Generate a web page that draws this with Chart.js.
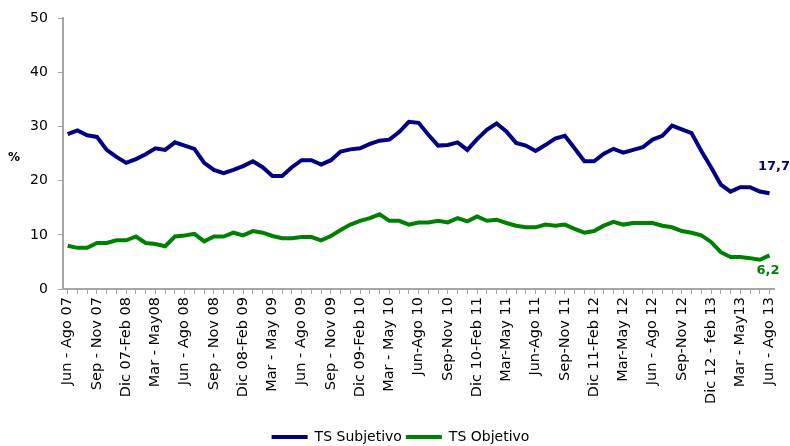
<!DOCTYPE html>
<html>
<head>
<meta charset="utf-8">
<script src="https://cdn.jsdelivr.net/npm/chart.js@4.4.1/dist/chart.umd.min.js"></script>
<style>
  html, body { margin: 0; padding: 0; background: #fff; }
  #wrap { width: 790px; height: 446px; position: relative; }
</style>
</head>
<body>
<div id="wrap"><canvas id="tsChart"></canvas></div>
<script>
// rolling quarters, one point per month; only every 3rd one gets a label
const tickLabels = [
    "Jun - Ago 07", "Sep - Nov 07", "Dic 07-Feb 08", "Mar - May08", "Jun - Ago 08",
    "Sep - Nov 08", "Dic 08-Feb 09", "Mar - May 09", "Jun - Ago 09", "Sep - Nov 09",
    "Dic 09-Feb 10", "Mar - May 10", "Jun-Ago 10", "Sep-Nov 10", "Dic 10-Feb 11",
    "Mar-May 11", "Jun-Ago 11", "Sep-Nov 11", "Dic 11-Feb 12", "Mar-May 12",
    "Jun - Ago 12", "Sep-Nov 12", "Dic 12 - feb 13", "Mar - May13", "Jun - Ago 13"
];

const tsSubjetivo = [
    28.6, 29.3, 28.4, 28.1, 25.7, 24.4, 23.3, 24.0, 24.9, 26.0,
    25.7, 27.1, 26.5, 25.9, 23.3, 22.0, 21.4, 22.0, 22.7, 23.6,
    22.5, 20.9, 20.9, 22.5, 23.8, 23.8, 23.0, 23.8, 25.4, 25.8,
    26.0, 26.8, 27.4, 27.6, 29.0, 30.9, 30.7, 28.5, 26.5, 26.6,
    27.1, 25.7, 27.7, 29.4, 30.6, 29.1, 27.0, 26.5, 25.5, 26.6,
    27.8, 28.3, 26.0, 23.6, 23.6, 25.0, 25.9, 25.2, 25.7, 26.2,
    27.6, 28.3, 30.2, 29.5, 28.8, 25.5, 22.5, 19.3, 18.0, 18.8,
    18.8, 18.0, 17.7
];

const tsObjetivo = [
    8.0, 7.6, 7.6, 8.5, 8.5, 9.0, 9.0, 9.7, 8.5, 8.3,
    7.9, 9.7, 9.9, 10.2, 8.8, 9.7, 9.7, 10.4, 9.9, 10.7,
    10.4, 9.8, 9.4, 9.4, 9.6, 9.6, 9.0, 9.8, 10.9, 11.9,
    12.6, 13.1, 13.8, 12.6, 12.6, 11.9, 12.3, 12.3, 12.6, 12.3,
    13.1, 12.5, 13.4, 12.6, 12.8, 12.2, 11.7, 11.4, 11.4, 11.9,
    11.7, 11.9, 11.1, 10.4, 10.7, 11.7, 12.4, 11.9, 12.2, 12.2,
    12.2, 11.7, 11.4, 10.7, 10.4, 9.9, 8.7, 6.8, 5.9, 5.9,
    5.7, 5.4, 6.2
];

const seriesNames = ["TS Subjetivo", "TS Objetivo"];
const seriesColors = ["#000080", "#008000"];

// category per month; label text only on every third month
const categories = tsSubjetivo.map((v, i) => i % 3 === 0 ? tickLabels[i / 3] : "");

const axisGray = "#a6a6a6";
const fontFamily = "'DejaVu Sans', sans-serif";

// "%" next to the y axis and the last value of each series
const extraText = {
    id: "extraText",
    afterDatasetsDraw(chart) {
        const ctx = chart.ctx;
        const area = chart.chartArea;
        ctx.save();
        ctx.fillStyle = "#000";
        ctx.font = "bold 12px " + fontFamily;
        ctx.textAlign = "center";
        ctx.textBaseline = "middle";
        ctx.fillText("%", 14, (area.top + area.bottom) / 2 + 4);

        ctx.font = "bold 13px " + fontFamily;
        const shifts = [[774, -27], [768, 15]];
        chart.data.datasets.forEach((ds, di) => {
            const meta = chart.getDatasetMeta(di);
            const last = meta.data[meta.data.length - 1];
            const val = ds.data[ds.data.length - 1];
            ctx.fillStyle = ds.borderColor;
            ctx.fillText(val.toFixed(1).replace(".", ","), shifts[di][0], last.y + shifts[di][1]);
        });
        ctx.restore();
    }
};

const ctx = document.getElementById("tsChart").getContext("2d");
new Chart(ctx, {
    type: "line",
    data: {
        labels: categories,
        datasets: [
            {
                label: seriesNames[0],
                data: tsSubjetivo,
                borderColor: seriesColors[0],
                backgroundColor: seriesColors[0],
                borderWidth: 4,
                pointRadius: 0,
                tension: 0,
                fill: false
            },
            {
                label: seriesNames[1],
                data: tsObjetivo,
                borderColor: seriesColors[1],
                backgroundColor: seriesColors[1],
                borderWidth: 4,
                pointRadius: 0,
                tension: 0,
                fill: false
            }
        ]
    },
    options: {
        responsive: true,
        maintainAspectRatio: false,
        animation: false,
        layout: { padding: { left: 20, right: 9, top: 10, bottom: -8 } },
        scales: {
            x: {
                offset: true,
                afterFit(scale) {
                    scale.height = 137; // leaves the gap above the legend
                },
                grid: {
                    display: true,
                    drawOnChartArea: false,
                    color: axisGray,
                    tickLength: 5,
                    tickWidth: 1
                },
                border: { color: axisGray, width: 2 },
                ticks: {
                    autoSkip: false,
                    maxRotation: 90,
                    minRotation: 90,
                    padding: 3,
                    color: "#000",
                    font: { family: fontFamily, size: 14.5 }
                }
            },
            y: {
                min: 0,
                max: 50,
                grid: {
                    display: true,
                    drawOnChartArea: false,
                    color: axisGray,
                    tickLength: 5
                },
                border: { color: axisGray, width: 2 },
                ticks: {
                    stepSize: 10,
                    padding: 10,
                    color: "#000",
                    font: { family: fontFamily, size: 14 }
                }
            }
        },
        plugins: {
            legend: {
                position: "bottom",
                labels: {
                    boxWidth: 36,
                    boxHeight: 4,
                    padding: 4,
                    color: "#000",
                    font: { family: fontFamily, size: 14 },
                    generateLabels(chart) {
                        return chart.data.datasets.map((ds, i) => ({
                            text: ds.label,
                            fillStyle: ds.borderColor,
                            strokeStyle: ds.borderColor,
                            lineWidth: 0,
                            fontColor: "#000",
                            hidden: false,
                            datasetIndex: i
                        }));
                    }
                }
            },
            tooltip: { enabled: false }
        }
    },
    plugins: [extraText]
});
</script>
</body>
</html>
